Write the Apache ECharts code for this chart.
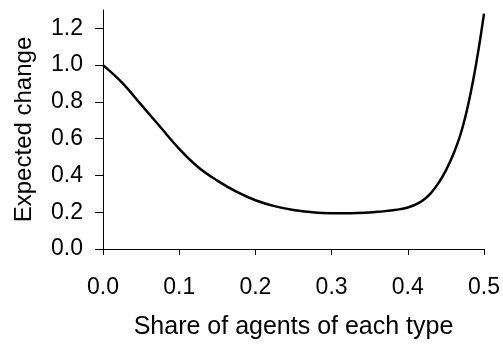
<!DOCTYPE html>
<html>
<head>
<meta charset="utf-8">
<script src="https://cdn.jsdelivr.net/npm/echarts@6/dist/echarts.min.js"></script>
<style>
  html, body { margin: 0; padding: 0; background: #fff; }
  #chart { width: 503px; height: 345px; }
</style>
</head>
<body>
<div id="chart"></div>
<script>
  // share of agents (x) and expected change (y)
  var shares = [0, 0.025, 0.05, 0.075, 0.1, 0.125, 0.15, 0.175, 0.2, 0.225, 0.25, 0.275,
                0.3, 0.325, 0.35, 0.36, 0.37, 0.38, 0.39, 0.4, 0.41, 0.42, 0.43, 0.44,
                0.45, 0.46, 0.47, 0.48, 0.49, 0.5];
  var expectedChange = [1.0, 0.905, 0.785, 0.665, 0.545, 0.445, 0.372, 0.312, 0.265, 0.233, 0.212, 0.2,
                        0.195, 0.195, 0.199, 0.202, 0.206, 0.211, 0.217, 0.226, 0.241, 0.265, 0.303, 0.357,
                        0.428, 0.518, 0.635, 0.8, 1.015, 1.28];
  var xTicks = [0, 0.1, 0.2, 0.3, 0.4, 0.5];
  var yTicks = [0, 0.2, 0.4, 0.6, 0.8, 1.0, 1.2];

  var points = shares.map(function (s, i) { return [s, expectedChange[i]]; });
  var font = 'Liberation Sans, Arial, sans-serif';

  var chart = echarts.init(document.getElementById('chart'));
  chart.setOption({
    animation: false,
    grid: { left: 103, right: 18, top: 10, bottom: 96, containLabel: false },
    xAxis: {
      type: 'value',
      min: 0, max: 0.5,
      name: 'Share of agents of each type',
      nameLocation: 'middle',
      nameGap: 66,
      nameTextStyle: { fontFamily: font, fontSize: 25, color: '#000' },
      axisLine: { show: true, lineStyle: { color: '#000', width: 1 } },
      axisTick: { show: true, inside: false, length: 6, customValues: xTicks, lineStyle: { color: '#000' } },
      axisLabel: {
        customValues: xTicks,
        margin: 27,
        fontFamily: font, fontSize: 23, color: '#000',
        formatter: function (v) { return v.toFixed(1); }
      },
      splitLine: { show: false }
    },
    yAxis: {
      type: 'value',
      min: 0, max: 1.3,
      name: 'Expected change',
      nameLocation: 'middle',
      nameGap: 67,
      nameTextStyle: { fontFamily: font, fontSize: 24, color: '#000' },
      axisLine: { show: true, lineStyle: { color: '#000', width: 1 } },
      axisTick: { show: true, inside: false, length: 8, customValues: yTicks, lineStyle: { color: '#000' } },
      axisLabel: {
        customValues: yTicks,
        margin: 20,
        fontFamily: font, fontSize: 23, color: '#000',
        formatter: function (v) { return v.toFixed(1); }
      },
      splitLine: { show: false }
    },
    series: [{
      type: 'line',
      data: points,
      smooth: 0.4,
      showSymbol: false,
      lineStyle: { color: '#000', width: 2.5 }
    }]
  });
</script>
</body>
</html>
